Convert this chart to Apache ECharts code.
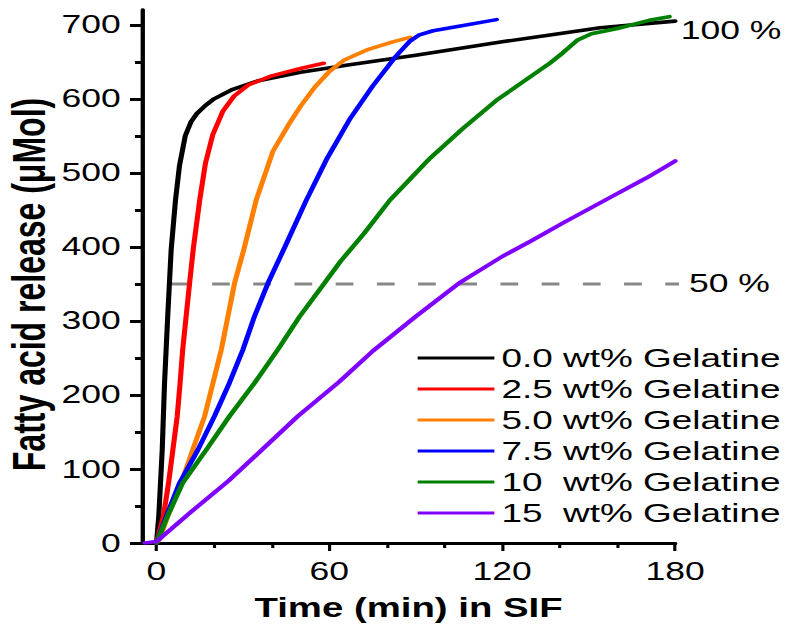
<!DOCTYPE html>
<html>
<head>
<meta charset="utf-8">
<script src="https://cdn.jsdelivr.net/npm/echarts@6/dist/echarts.min.js"></script>
<style>
  html, body { margin: 0; padding: 0; background: #fff; overflow: hidden; }
  /* the figure is laid out narrow and widened horizontally, as in the printed figure */
  #chart { width: 554px; height: 627px; transform: scaleX(1.4206); transform-origin: 0 0; }
</style>
</head>
<body>
<div id="chart"></div>
<script>
// Fatty acid release (µMol) over time (min) in SIF, per gelatine content
const seriesNames = [
  '0.0 wt% Gelatine',
  '2.5 wt% Gelatine',
  '5.0 wt% Gelatine',
  '7.5 wt% Gelatine',
  '10  wt% Gelatine',
  '15  wt% Gelatine'
];
const seriesColors = ['#000000', '#ff0000', '#ff8000', '#0000ff', '#008000', '#8000ff'];

// [time (min), release (µMol)]
const gel0 = [[0,0],[0.8,36],[2,126],[2.8,216],[3.9,306],[5.1,396],[6.6,463],[8,510],[10,550],[12,569],[14,580],[17,591],[20,600],[26,612],[35,624],[50,636],[67,646],[90,659],[120,677],[136,686],[154,696],[180,705]];
const gel25 = [[0,0],[2.4,36],[4.2,81],[5.7,126],[7.2,171],[8.2,216],[9.1,261],[10.3,306],[11.5,351],[12.8,398],[15,463],[17,513],[19.5,551],[23,583],[27,604],[32,619],[40,631],[50,641],[58,648]];
const gel50 = [[0,0],[1,4],[3.9,36],[8.6,81],[12.6,126],[16.7,171],[19.6,216],[22.5,261],[24.8,306],[27.1,351],[30.3,396],[34.6,463],[40.4,529],[46,566],[50,590],[55,616],[60,637],[65,652],[73,666],[82,677],[88,683]];
const gel75 = [[0,0],[3.4,36],[8,81],[14.4,126],[20.1,171],[25.3,216],[30,261],[34,306],[38.7,351],[44.1,396],[52,463],[59,518],[67,572],[75,617],[83,657],[88,678],[91,686],[96,692],[105,698],[118,707]];
const gel10 = [[0,0],[3.8,36],[9.1,81],[17.3,126],[25.3,171],[34,216],[42.1,261],[49.7,306],[58.3,351],[64,381],[72,418],[81,463],[95,520],[106.4,560],[118,598],[128,625],[136.5,648],[141,662],[146,679],[151,688],[160,695],[171,706],[178,711]];
const gel15 = [[-4,0],[0,2],[12,42],[25,84],[35,120],[49,171],[63.5,218],[75,259],[90,306],[105,351],[120,387],[130,408],[141,432],[158,468],[170,493],[180,516]];
const seriesData = [gel0, gel25, gel50, gel75, gel10, gel15];

// 50 % release level
const halfLine = [[5,350],[185,350]];

// axis ticks and labels
const xMajor = [0, 60, 120, 180];
const xMinor = [20, 40, 80, 100, 140, 160];
const yMajor = [0, 100, 200, 300, 400, 500, 600, 700];
const yMinor = [50, 150, 250, 350, 450, 550, 650];

const FONT = '"Liberation Sans", Arial, Helvetica, sans-serif';

const chart = echarts.init(document.getElementById('chart'), null, { renderer: 'svg' });

const baseX = { type: 'value', min: -5, max: 180, position: 'bottom', splitLine: { show: false } };
const baseY = { type: 'value', min: 0, max: 720, position: 'left', splitLine: { show: false } };

const series = [{
  name: 'half',
  type: 'line',
  data: halfLine,
  showSymbol: false,
  clip: false,
  silent: true,
  lineStyle: { color: '#888888', width: 3, type: [12.5, 16.5] },
  endLabel: { show: true, formatter: '50 %', fontSize: 25, fontFamily: FONT, color: '#000', distance: 7 }
}];
seriesData.forEach((d, i) => {
  const s = {
    name: seriesNames[i],
    type: 'line',
    data: d,
    showSymbol: false,
    smooth: false,
    color: seriesColors[i],
    lineStyle: { color: seriesColors[i], width: 3.6, join: 'round', cap: 'round' }
  };
  if (i === 0) {
    s.endLabel = { show: true, formatter: '100 %', fontSize: 25, fontFamily: FONT, color: '#000', distance: 4, offset: [0, 9] };
  }
  series.push(s);
});

chart.setOption({
  animation: false,
  backgroundColor: '#fff',
  textStyle: { fontFamily: FONT },
  grid: { left: 100, top: 10, width: 375.2, height: 533, containLabel: false, outerBoundsMode: 'none' },
  legend: {
    data: seriesNames,
    orient: 'vertical',
    left: 294,
    top: 345,
    padding: 0,
    icon: 'rect',
    itemWidth: 54,
    itemHeight: 3,
    itemGap: 5,
    textStyle: { fontSize: 26, lineHeight: 26, color: '#000', fontFamily: FONT }
  },
  xAxis: [
    Object.assign({}, baseX, {
      axisLine: { onZero: false, lineStyle: { color: '#000', width: 3.2 } },
      axisTick: { customValues: xMajor, length: 8, lineStyle: { color: '#000', width: 2.2 } },
      axisLabel: { customValues: xMajor, fontSize: 25, color: '#000', margin: 16, fontFamily: FONT },
      name: 'Time (min) in SIF',
      nameLocation: 'middle',
      nameGap: 51,
      nameMoveOverlap: false,
      nameTextStyle: { fontSize: 27, fontWeight: 'bold', color: '#000', fontFamily: FONT }
    }),
    Object.assign({}, baseX, {
      axisLine: { onZero: false, lineStyle: { color: '#000', width: 3.2 } },
      axisTick: { customValues: xMinor, length: 5, lineStyle: { color: '#000', width: 2.2 } },
      axisLabel: { show: false }
    })
  ],
  yAxis: [
    Object.assign({}, baseY, {
      axisLine: { onZero: false, lineStyle: { color: '#000', width: 2.8 } },
      axisTick: { customValues: yMajor, length: 8.5, lineStyle: { color: '#000', width: 3 } },
      axisLabel: { customValues: yMajor, fontSize: 25, color: '#000', margin: 15, fontFamily: FONT },
      name: 'Fatty acid release (\u03bcMol)',
      nameLocation: 'middle',
      nameRotate: 90,
      nameGap: 64,
      nameMoveOverlap: false,
      nameTextStyle: { fontSize: 32, fontWeight: 'bold', color: '#000', fontFamily: FONT, padding: [0, 16, 0, 0] }
    }),
    Object.assign({}, baseY, {
      axisLine: { onZero: false, lineStyle: { color: '#000', width: 2.8 } },
      axisTick: { customValues: yMinor, length: 5, lineStyle: { color: '#000', width: 3 } },
      axisLabel: { show: false }
    })
  ],
  series: series
});
</script>
</body>
</html>
